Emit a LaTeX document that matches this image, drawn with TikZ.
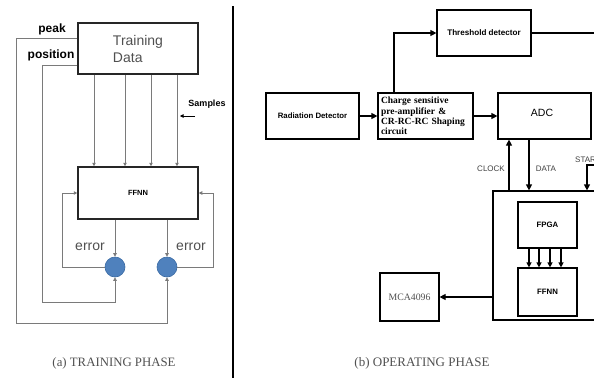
\documentclass[tikz,border=0pt]{standalone}
\usepackage{fontspec}
\setmainfont{Liberation Sans}
\newfontfamily\serif{Liberation Serif}
\usetikzlibrary{arrows.meta}
\definecolor{txtgray}{HTML}{505050}
\definecolor{lbltxt}{HTML}{404040}
\definecolor{linegray}{HTML}{7A7A7A}
\definecolor{dotblue}{HTML}{4F81BD}
\definecolor{dotedge}{HTML}{3A6AA3}
\begin{document}
\begin{tikzpicture}[x=1pt,y=-1pt,
  lbox/.style={draw=black!85, line width=1.5pt, inner sep=0pt},
  rbox/.style={draw=black, line width=1.2pt, inner sep=0pt},
  thinline/.style={draw=linegray, line width=0.8pt},
  sarrow/.style={-{Triangle[length=3.5pt,width=3.5pt]}},
  barrow/.style={-{Triangle[length=6pt,width=6pt]}, line width=1.2pt},
  dot/.style={circle, fill=dotblue, draw=dotedge, line width=0.6pt, minimum size=20pt, inner sep=0pt},
  lbl/.style={inner sep=0pt},
]
\useasboundingbox (0,0) rectangle (594,378);
\clip (0,0) rectangle (594,378);

% ---------------- (a) training phase ----------------
\node[lbox, minimum width=120pt, minimum height=51pt, text=txtgray, align=left,
      font=\fontsize{14}{17}\selectfont] (td) at (138,48.5) {Training\\Data};
\node[lbox, minimum width=120pt, minimum height=52pt,
      font=\bfseries\fontsize{7.5}{9}\selectfont] (ff1) at (138,193) {FFNN};
\node[dot] (c1) at (115,267) {};
\node[dot] (c2) at (167,267) {};

\node[lbl, font=\bfseries\fontsize{12}{14}\selectfont] (peak) at (52,29) {peak};
\node[lbl, font=\bfseries\fontsize{12}{14}\selectfont] (pos) at (51,55) {position};
\node[lbl, text=txtgray, font=\fontsize{14}{16}\selectfont] (e1) at (90,247) {error};
\node[lbl, text=txtgray, font=\fontsize{14}{16}\selectfont] (e2) at (191,247) {error};
\node[lbl, font=\bfseries\fontsize{9}{10}\selectfont] (samp) at (207,104) {Samples};

\coordinate (s1) at (94,0);
\coordinate (s2) at (125,0);
\coordinate (s3) at (151,0);
\coordinate (s4) at (177,0);
\foreach \s in {s1,s2,s3,s4}
  \draw[thinline, sarrow] (td.south -| \s) -- (ff1.north -| \s);

\coordinate (sa0) at (195,116);
\coordinate (sa1) at (180,116);
\draw[black, line width=0.6pt, sarrow] (sa0) -- (sa1);

\coordinate (pkx) at (16,323);
\coordinate (psx) at (42,302);
\draw[thinline, sarrow] ([yshift=10.5pt]td.west) -| (pkx) -| (c2.south);
\draw[thinline, sarrow] ([yshift=-16.5pt]td.west) -| (psx) -| (c1.south);

\draw[thinline, sarrow] (ff1.south -| c1) -- (c1.north);
\draw[thinline, sarrow] (ff1.south -| c2) -- (c2.north);

\coordinate (lx) at (62,0);
\coordinate (rx) at (213,0);
\draw[thinline, sarrow] (c1.west) -| (lx |- ff1.west) -- (ff1.west);
\draw[thinline, sarrow] (c2.east) -| (rx |- ff1.east) -- (ff1.east);

\node[lbl, text=txtgray, font=\serif\fontsize{12.8}{14}\selectfont] (capa) at (114,363) {(a) TRAINING PHASE};

% divider
\coordinate (dv0) at (233,6);
\coordinate (dv1) at (233,378);
\draw[black, line width=2pt] (dv0) -- (dv1);

% ---------------- (b) operating phase ----------------
\node[rbox, minimum width=94pt, minimum height=46pt,
      font=\bfseries\fontsize{8.1}{9}\selectfont] (th) at (484,33) {Threshold detector};
\node[rbox, minimum width=93pt, minimum height=46pt,
      font=\bfseries\fontsize{7.8}{9}\selectfont] (rd) at (312.5,116) {Radiation Detector};
\node[rbox, minimum height=46pt, text width=89pt, inner xsep=3pt, align=left,
      font=\serif\bfseries\fontsize{9.5}{10.3}\selectfont] (ch) at (425.5,116)
      {Charge sensitive\\pre-amplifier \&\\CR-RC-RC Shaping\\circuit};
\node[rbox, minimum width=93pt, minimum height=46pt] (adc) at (544.5,116) {};
\node[lbl, font=\fontsize{10.5}{12}\selectfont] (adct) at (542,113) {ADC};
\node[rbox, minimum width=114pt, minimum height=129pt] (bb) at (550,255.5) {};
\node[rbox, minimum width=59pt, minimum height=46pt,
      font=\bfseries\fontsize{7.8}{9}\selectfont] (fpga) at (547.5,225) {FPGA};
\node[rbox, minimum width=59pt, minimum height=48pt,
      font=\bfseries\fontsize{7.8}{9}\selectfont] (ff2) at (547.5,292) {FFNN};
\node[rbox, minimum width=59pt, minimum height=48pt, text=txtgray,
      font=\serif\fontsize{9.8}{11}\selectfont] (mca) at (409.5,297) {MCA4096};

\draw[barrow] (rd.east) -- (ch.west);
\draw[barrow] (ch.east) -- (adc.west);
\coordinate (tu) at (394,0);
\draw[barrow] (ch.north -| tu) |- (th.west);
\coordinate (thr) at (600,33);
\draw[line width=1.2pt] (th.east) -- (thr);

\coordinate (ck) at (509,0);
\coordinate (dt) at (529,0);
\draw[barrow] (bb.north -| ck) -- (adc.south -| ck);
\draw[barrow] (adc.south -| dt) -- (bb.north -| dt);

\coordinate (st0) at (600,165);
\coordinate (st1) at (587,165);
\draw[barrow] (st0) -- (st1) -- (bb.north -| st1);

\foreach \x in {529,539,550,561} {
  \coordinate (fa) at (\x,0);
  \draw[barrow, -{Triangle[length=5pt,width=5pt]}] (fpga.south -| fa) -- (ff2.north -| fa);
}

\draw[barrow] (bb.west |- mca.east) -- (mca.east);

\node[lbl, text=lbltxt, font=\fontsize{8}{9}\selectfont] (clk) at (491,169) {CLOCK};
\node[lbl, text=lbltxt, font=\fontsize{8}{9}\selectfont] (dat) at (546,169) {DATA};
\node[lbl, anchor=west, text=lbltxt, font=\fontsize{8}{9}\selectfont] (sta) at (575,160) {START};

\node[lbl, text=txtgray, font=\serif\fontsize{13}{14}\selectfont] (capb) at (422,363) {(b) OPERATING PHASE};
\end{tikzpicture}
\end{document}
